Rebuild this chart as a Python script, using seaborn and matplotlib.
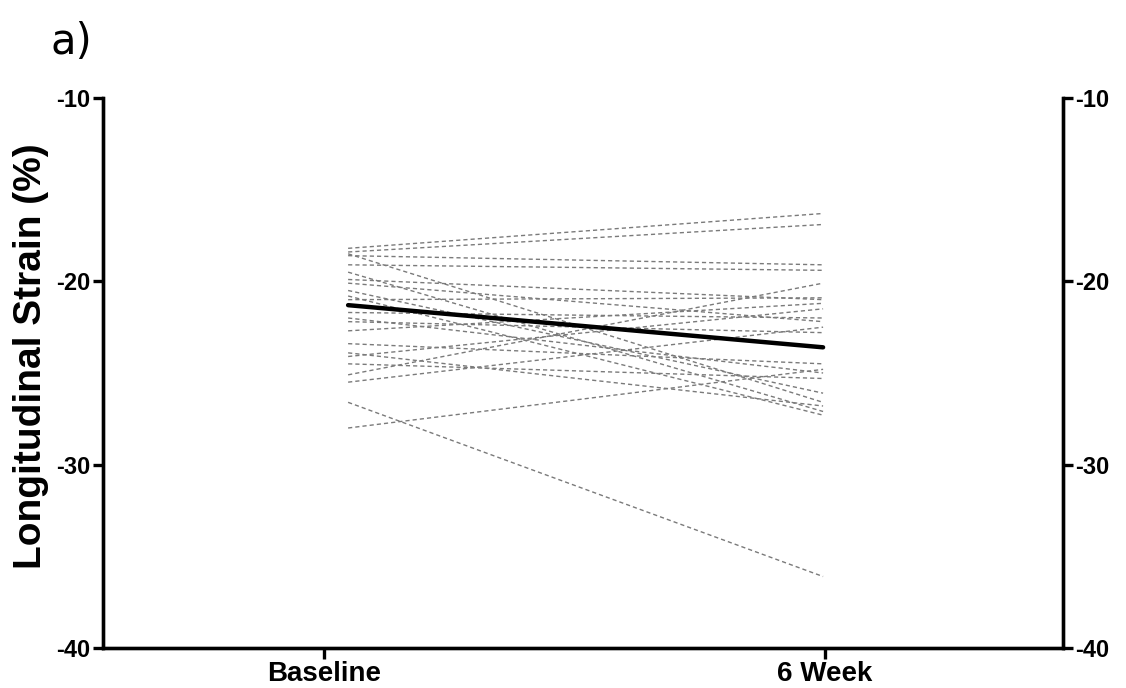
import pandas as pd
import matplotlib.pyplot as plt
import numpy as np
import seaborn as sns

# values (strain %, per subject)
timepoints = ["Baseline", "6 Week"]
baseline = [-18.2, -18.4, -18.5, -18.6, -19.1, -19.5, -19.9, -20.1, -20.5, -20.8,
            -21.0, -21.7, -22.0, -22.2, -22.7, -23.4, -23.9, -24.1, -24.5, -25.1,
            -25.5, -26.6, -28.0]
week6 = [-16.3, -16.9, -26.6, -19.1, -19.4, -27.1, -21.0, -22.2, -26.1, -27.3,
         -20.9, -22.0, -25.0, -22.8, -21.2, -24.5, -26.8, -21.5, -25.3, -20.1,
         -22.5, -36.1, -24.8]
mean_line = [-21.3, -23.6]
yticks = [-10, -20, -30, -40]

rows = []
for i, (b, w) in enumerate(zip(baseline, week6)):
    rows.append({"subject": i, "x": 0, "strain": b})
    rows.append({"subject": i, "x": 1, "strain": w})
df = pd.DataFrame(rows)
df_mean = pd.DataFrame({"x": [0, 1], "strain": mean_line})

sns.set_style("white")
plt.rcParams['font.family'] = ['Liberation Sans', 'DejaVu Sans']
plt.rcParams['text.color'] = 'black'
plt.rcParams['axes.labelcolor'] = 'black'
plt.rcParams['xtick.color'] = 'black'
plt.rcParams['ytick.color'] = 'black'

fig = plt.figure(figsize=(11.26, 6.88), dpi=100)
ax = fig.add_axes([0.0915, 0.0581, 0.8525, 0.7995])

sns.lineplot(data=df, x="x", y="strain", units="subject", estimator=None,
             color="#7a7a7a", linestyle=(0, (3, 2.2)), linewidth=1.0, ax=ax)
sns.lineplot(data=df_mean, x="x", y="strain", color="black", linewidth=3.2, ax=ax)

ax.set_xlim(-0.516, 1.505)
ax.set_ylim(-40, -10)
ax.set_xticks([-0.05, 1.004])
ax.set_xticklabels(timepoints, fontsize=20, fontweight="bold")
ax.set_yticks(yticks)
ax.set_yticklabels([str(t) for t in yticks], fontsize=17, fontweight="bold")
ax.set_xlabel("")
ax.set_ylabel("Longitudinal Strain (%)", fontsize=28, fontweight="bold")
ax.yaxis.set_label_coords(-0.056, 0.53)

ax2 = ax.twinx()
ax2.set_ylim(-40, -10)
ax2.set_yticks(yticks)
ax2.set_yticklabels([str(t) for t in yticks], fontsize=17, fontweight="bold")

for a in (ax, ax2):
    a.spines["top"].set_visible(False)
    for s in ("left", "right", "bottom"):
        a.spines[s].set_linewidth(2.4)
        a.spines[s].set_color("black")
    a.tick_params(axis="both", direction="out", length=7, width=2.4, color="black", pad=2)
ax.tick_params(axis="y", left=True, right=False)
ax.tick_params(axis="x", bottom=True, length=8, pad=1)
ax2.tick_params(axis="y", right=True, left=False)

fig.text(0.045, 0.922, "a)", fontsize=30, family="DejaVu Sans")

plt.savefig("out.png", dpi=100)
